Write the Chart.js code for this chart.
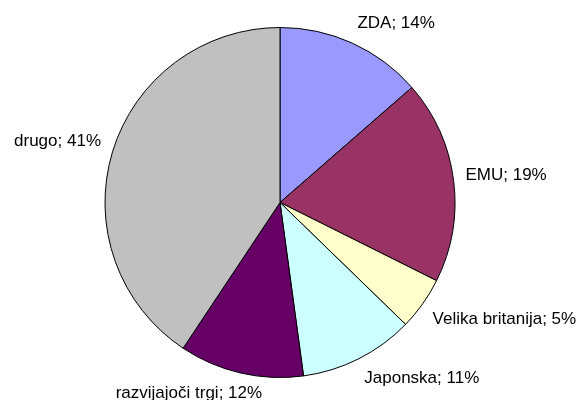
<!DOCTYPE html>
<html>
<head>
<meta charset="utf-8">
<script src="https://cdn.jsdelivr.net/npm/chart.js@4/dist/chart.umd.min.js"></script>
<style>
  html, body { margin: 0; padding: 0; background: #fff; }
  #wrap { width: 580px; height: 400px; }
</style>
</head>
<body>
<div id="wrap"><canvas id="pie"></canvas></div>
<script>
"use strict";

// Deleži po trgih (odčitano s slike), v smeri urinega kazalca od vrha.
const LABELS = ["ZDA", "EMU", "Velika britanija", "Japonska", "razvijajoči trgi", "drugo"];
const SHARES = [13.6, 18.8, 4.9, 10.6, 11.5, 40.7];
const SHOWN = ["14%", "19%", "5%", "11%", "12%", "41%"];
const COLORS = ["#9999FF", "#993366", "#FFFFCC", "#CCFFFF", "#660066", "#C0C0C0"];

const FONT = "17px 'Liberation Sans', Arial, sans-serif";
const clamp = (v) => Math.max(-1, Math.min(1, v));

// Oznake zunaj izseka, v slogu Excela: "ime; odstotek".
const outsideLabels = {
  id: "outsideLabels",
  afterDatasetsDraw(chart) {
    const ctx = chart.ctx;
    const meta = chart.getDatasetMeta(0);
    ctx.save();
    ctx.font = FONT;
    ctx.fillStyle = "#000";
    ctx.textAlign = "center";
    ctx.textBaseline = "middle";
    meta.data.forEach((arc, i) => {
      const p = arc.getProps(["x", "y", "startAngle", "endAngle", "outerRadius"], true);
      const mid = (p.startAngle + p.endAngle) / 2;
      const R = p.outerRadius + 12;
      const ax = p.x + Math.cos(mid) * R;
      const ay = p.y + Math.sin(mid) * R;
      const text = LABELS[i] + "; " + SHOWN[i];
      const w = ctx.measureText(text).width;
      const h = 17;
      const cx = ax + clamp(Math.cos(mid) * 3) * w / 2;
      const cy = ay + clamp(Math.sin(mid) * 3) * h / 2;
      ctx.fillText(text, cx, cy);
    });
    ctx.restore();
  },
};

new Chart(document.getElementById("pie"), {
  type: "pie",
  data: {
    labels: LABELS,
    datasets: [{
      data: SHARES,
      backgroundColor: COLORS,
      borderColor: "#000",
      borderWidth: 1,
    }],
  },
  options: {
    responsive: true,
    maintainAspectRatio: false,
    animation: false,
    layout: { padding: { top: 27, bottom: 22, left: 0, right: 20 } },
    plugins: { legend: { display: false }, tooltip: { enabled: false } },
  },
  plugins: [outsideLabels],
});
</script>
</body>
</html>
